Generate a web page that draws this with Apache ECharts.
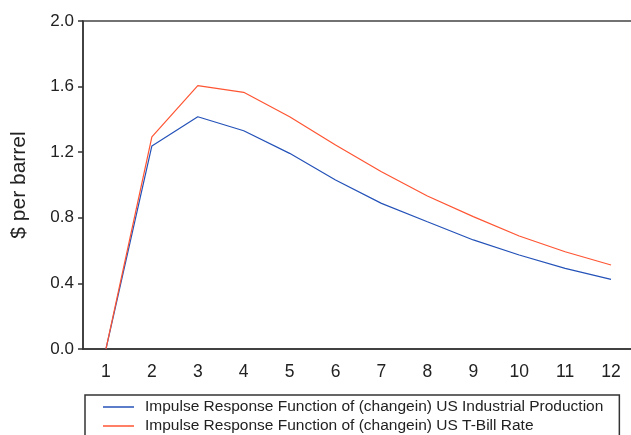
<!DOCTYPE html>
<html>
<head>
<meta charset="utf-8">
<script src="https://cdn.jsdelivr.net/npm/echarts@6/dist/echarts.min.js"></script>
<style>
  html, body {margin: 0; padding: 0; background: #fff;}
  #chart {width: 631px; height: 435px;}
</style>
</head>
<body>
<div id="chart"></div>
<script>
var periods = ['1', '2', '3', '4', '5', '6', '7', '8', '9', '10', '11', '12'];
var industrial = [0.0, 1.238, 1.416, 1.331, 1.193, 1.03, 0.888, 0.776, 0.665, 0.573, 0.492, 0.425];
var tbill = [0.0, 1.293, 1.606, 1.565, 1.416, 1.244, 1.081, 0.933, 0.807, 0.689, 0.593, 0.512];
var labels = [
  'Impulse Response Function of (changein) US Industrial Production',
  'Impulse Response Function of (changein) US T-Bill Rate'
];

var chart = echarts.init(document.getElementById('chart'));
var font = 'Liberation Sans, Arial, sans-serif';

chart.setOption({
  animation: false,
  textStyle: {fontFamily: font},
  grid: {
    left: 83, right: -3, top: 21, bottom: 86,
    outerBoundsMode: 'none', containLabel: false,
    show: true, borderColor: '#444', borderWidth: 1.5
  },
  legend: {
    orient: 'vertical',
    left: 85,
    top: 395,
    height: 120,
    data: labels,
    icon: 'rect',
    itemWidth: 31,
    itemHeight: 1.5,
    itemGap: 3,
    padding: [4, 16, 30, 18],
    borderColor: '#333',
    borderWidth: 1.5,
    borderRadius: 0,
    textStyle: {fontFamily: font, fontSize: 15.5, color: '#222', padding: [0, 0, 0, 6]}
  },
  xAxis: {
    type: 'category',
    data: periods,
    boundaryGap: true,
    axisLine: {lineStyle: {color: '#333', width: 1.5}},
    axisTick: {length: 6, lineStyle: {color: '#333', width: 1.5}},
    axisLabel: {fontSize: 17.5, color: '#222', margin: 14},
    splitLine: {show: false}
  },
  yAxis: {
    type: 'value',
    min: 0,
    max: 2,
    interval: 0.4,
    name: '$ per barrel',
    nameLocation: 'middle',
    nameGap: 53,
    nameTextStyle: {fontSize: 21, color: '#222'},
    axisLine: {show: true, lineStyle: {color: '#333', width: 1.5}},
    axisTick: {show: true, length: 5, lineStyle: {color: '#333', width: 1.5}},
    axisLabel: {fontSize: 17, color: '#222', margin: 9, formatter: function (v) { return v.toFixed(1); }},
    splitLine: {show: false}
  },
  series: [
    {name: labels[0], type: 'line', data: industrial, showSymbol: false, lineStyle: {color: '#2452b8', width: 1.2}, itemStyle: {color: '#2452b8'}},
    {name: labels[1], type: 'line', data: tbill, showSymbol: false, lineStyle: {color: '#ff5533', width: 1.2}, itemStyle: {color: '#ff5533'}}
  ]
});
</script>
</body>
</html>
